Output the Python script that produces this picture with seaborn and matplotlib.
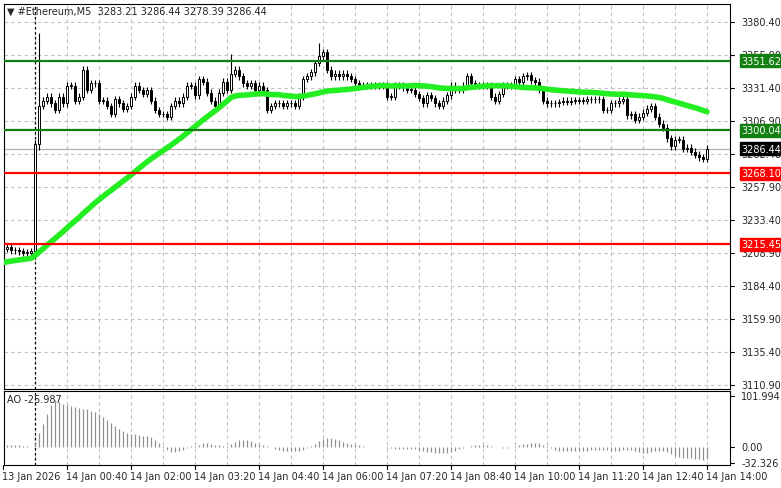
import numpy as np
import pandas as pd
import matplotlib
matplotlib.use("Agg")
import matplotlib.pyplot as plt
import seaborn as sns

sns.set_style("white")
plt.rcParams['font.family'] = ['DejaVu Sans']

# history before the visible window (for the moving average / AO)
pre_closes = [3186,3187,3186,3188,3189,3188,3190,3191,3190,3192,3193,3192,3194,3195,3194,3196,3197,3196,3198,3199,
              3198,3200,3201,3200,3202,3203,3202,3204,3205,3204,3206,3207,3206,3208,3209,3208,3210,3211,3210,3212,
              3211,3212,3213,3212,3211,3212,3213,3212,3211,3212]
closes = [3212,3213,3211,3211,3210,3209,3209,3210,
          3290,3318,
          3322,3325,3320,
          3315,3325,3320,3333,3333,3322,3325,3345,3330,3335,3335,3322,3322,3318,3312,3323,3320,3316,3318,3325,3333,
          3330,3327,3330,3322,3315,3312,3312,3310,3318,3322,3320,3325,3333,3333,3326,3338,3336,3328,3322,3318,3328,
          3336,3330,3342,3345,3340,3335,3333,3335,3330,3333,3330,3315,3318,3320,3320,3318,3320,3320,3318,3325,3338,
          3340,3343,3350,3355,3358,3345,3340,3342,3340,3342,3340,3338,3335,3333,3333,
          3333,3333,3333,3333,3333,3325,3325,3333,3333,3332,3330,3330,3327,3324,3320,3326,3324,3320,3318,3322,3326,
          3333,3330,3330,3333,3340,3335,3333,3333,3333,3333,3325,3322,3327,3333,3333,3333,3338,3336,3340,3341,3337,
          3336,3330,3322,3320,3320,3320,3321,3322,3321,3322,3322,3322,3322,3323,3323,3323,3323,3315,3315,3320,3320,
          3322,3323,3311,3312,3308,3310,3313,3316,3318,3310,3305,3302,3294,3288,3293,3293,3286,3287,3284,3282,3280,
          3279,3286.44]
spike_highs = {9: 3372, 57: 3357, 79: 3365}
spike_lows = {9: 3285}
wick = 2.5

price_ticks = [3380.40, 3355.90, 3331.40, 3306.90, 3282.40, 3257.90, 3233.40, 3208.90, 3184.40, 3159.90, 3135.40, 3110.90]
green_levels = [3351.62, 3300.04]
red_levels = [3268.10, 3215.45]
last_price = 3286.44
time_labels = ["13 Jan 2026", "14 Jan 00:40", "14 Jan 02:00", "14 Jan 03:20", "14 Jan 04:40", "14 Jan 06:00",
               "14 Jan 07:20", "14 Jan 08:40", "14 Jan 10:00", "14 Jan 11:20", "14 Jan 12:40", "14 Jan 14:00"]
ao_ticks = [101.994, 0.00, -32.326]

allc = pre_closes + closes
opens_all = [allc[0]] + allc[:-1]
df = pd.DataFrame({"close": allc, "open": opens_all})
df["high"] = df[["open", "close"]].max(axis=1) + wick
df["low"] = df[["open", "close"]].min(axis=1) - wick
n0 = len(pre_closes)
for k, v in spike_highs.items():
    df.loc[n0 + k, "high"] = v
for k, v in spike_lows.items():
    df.loc[n0 + k, "low"] = v
df["ma"] = df["close"].rolling(50, min_periods=1).mean()
med = (df["high"] + df["low"]) / 2
df["ao"] = med.rolling(5, min_periods=1).mean() - med.rolling(34, min_periods=1).mean()
d = df.iloc[n0:].reset_index(drop=True)
d["i"] = np.arange(len(d))

W, H = 781, 489
fig = plt.figure(figsize=(W / 100, H / 100), dpi=100)
x0 = 3 - 1 * 4  # pixel of index -1
def xfr(px): return px / W
ax = fig.add_axes([4 / W, (H - 390) / H, (730 - 4) / W, 385 / H])
ax2 = fig.add_axes([4 / W, (H - 466) / H, (730 - 4) / W, 74 / H])
xl = ((4 - 3) / 4.0, (730 - 3) / 4.0)
for a in (ax, ax2):
    a.set_xlim(xl)
    for s in a.spines.values():
        s.set_color("black"); s.set_linewidth(0.8)
    a.set_xticks([]); a.set_yticks([])
ax.set_ylim(3107.9, 3393.76)
ax2.set_ylim(-36, 112)

# grids
for xi in range(0, 200, 8):
    for a in (ax, ax2):
        a.axvline(xi, color="#c0c0c0", lw=0.8, ls=(0, (3, 3)), zorder=0)
for p in price_ticks:
    ax.axhline(p, color="#c0c0c0", lw=0.8, ls=(0, (3, 3)), zorder=0)
for a in (ax, ax2):
    a.axvline(8, color="black", lw=0.9, ls=(0, (2, 2)), zorder=1)

# candles
ax.vlines(d["i"], d["low"], d["high"], color="black", lw=0.8, zorder=3)
up = d["close"] >= d["open"]
bh = (d["close"] - d["open"]).abs().clip(lower=0.4)
bb = d[["open", "close"]].min(axis=1)
ax.bar(d["i"][up], bh[up], bottom=bb[up], width=0.6, color="white", edgecolor="black", lw=0.7, zorder=4)
ax.bar(d["i"][~up], bh[~up], bottom=bb[~up], width=0.6, color="black", edgecolor="black", lw=0.7, zorder=4)

sns.lineplot(data=d, x="i", y="ma", ax=ax, color="#22ee22", lw=4, zorder=5, legend=False)
ax.set_xlabel(""); ax.set_ylabel("")
ax.set_xticks([]); ax.set_yticks([])

ax.axhline(last_price, color="#b0b0b0", lw=0.9, zorder=2)
for p in green_levels:
    ax.axhline(p, color="#118011", lw=1.6, zorder=6)
for p in red_levels:
    ax.axhline(p, color="#ff0000", lw=1.6, zorder=6)

# right price labels
tr = ax.get_yaxis_transform()
for p in price_ticks:
    ax.text(1.0, p, "", transform=tr)
    ax.annotate(f"{p:.2f}", xy=(1.0, p), xycoords=tr, xytext=(8, 0), textcoords="offset points",
                fontsize=7, va="center", ha="left", annotation_clip=False)
    ax.plot([1.0, 1.006], [p, p], transform=tr, color="black", lw=0.8, clip_on=False)
def box(p, fc, tc):
    ax.annotate(f"{p:.2f}", xy=(1.0, p), xycoords=tr, xytext=(8, 0), textcoords="offset points",
                fontsize=7, va="center", ha="left", color=tc, annotation_clip=False, zorder=10,
                bbox=dict(boxstyle="square,pad=0.15", fc=fc, ec=fc))
for p in green_levels:
    box(p, "#118011", "white")
for p in red_levels:
    box(p, "#ff0000", "white")
box(last_price, "black", "white")

ax.text(0.004, 0.995, "▼ #Ethereum,M5  3283.21 3286.44 3278.39 3286.44", transform=ax.transAxes,
        fontsize=7, va="top", ha="left")

# AO
ax2.vlines(d["i"], 0, d["ao"], color="#909090", lw=0.9)
ax2.text(0.004, 0.96, "AO -25.987", transform=ax2.transAxes, fontsize=7, va="top", ha="left")
tr2 = ax2.get_yaxis_transform()
for p, lab in zip(ao_ticks, ["101.994", "0.00", "-32.326"]):
    ax2.annotate(lab, xy=(1.0, p), xycoords=tr2, xytext=(8, 0), textcoords="offset points",
                 fontsize=7, va="center", ha="left", annotation_clip=False)
    ax2.plot([1.0, 1.006], [p, p], transform=tr2, color="black", lw=0.8, clip_on=False)

# time labels
trx = ax2.get_xaxis_transform()
for k, lab in enumerate(time_labels):
    xi = 0 if k == 0 else 16 * k
    ax2.plot([xi, xi], [0, -0.05], transform=trx, color="black", lw=0.8, clip_on=False)
    ax2.text(xi - 0.3, -0.08, lab, transform=trx, fontsize=7, va="top", ha="left", clip_on=False)

fig.savefig("out.png", dpi=100, facecolor="white")
